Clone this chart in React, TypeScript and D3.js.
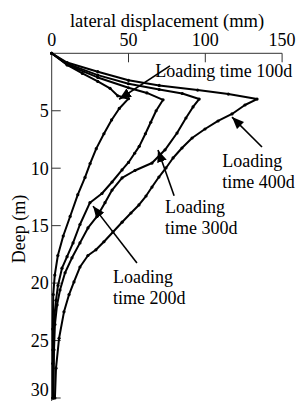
import * as d3 from "d3";

const W = 298;
const H = 401;
const FONT = "'Liberation Serif', 'Times New Roman', serif";

const X_TICKS = [0, 50, 100, 150];
const Y_TICKS = [5, 10, 15, 20, 25, 30];

// [displacement mm, depth m]
const curve100: [number, number][] = [
  [0, 0], [10, 1.0], [20, 1.75], [30, 2.45], [38, 3.05], [43, 3.7], [50, 3.95],
  [44, 4.8], [39, 5.8], [34, 7.0], [29, 8.3], [25, 9.6], [21.7, 10.8], [17, 12.3],
  [12, 14.2], [7.5, 15.9], [4, 17.6], [2, 19.3], [1, 21], [0.7, 24], [0.7, 27], [0.7, 30],
];
const curve200: [number, number][] = [
  [0, 0], [10, 1.0], [30, 2.1], [50, 3.0], [62, 3.45], [72.5, 4.05],
  [68, 5.0], [64.5, 6.0], [61, 7.0], [57, 8.1], [54, 8.7], [50, 9.5], [45.8, 10.15],
  [39.3, 11.2], [32.7, 12.2], [24.9, 13.0], [18.4, 14.9], [13.9, 16.5], [10, 17.7],
  [6.7, 18.7], [4.1, 20.2], [2.8, 21.5], [1.5, 23.2], [0.8, 25.8], [0.8, 30],
];
const curve300: [number, number][] = [
  [0, 0], [10, 0.9], [30, 1.9], [50, 2.65], [70, 3.15], [85, 3.5], [96, 3.98],
  [92, 4.67], [87.4, 5.63], [81.6, 6.94], [73.8, 8.4], [65.3, 9.55], [54.2, 10.2],
  [45.8, 10.85], [39.3, 11.9], [34.7, 13.0], [29.5, 14.2], [23.6, 15.2], [18.4, 16.5],
  [13.2, 17.8], [8.7, 19.1], [5.4, 20.6], [3.5, 21.9], [2.1, 23.6], [1.5, 25.8], [1.2, 30],
];
const curve400: [number, number][] = [
  [0, 0], [10, 0.8], [30, 1.6], [50, 2.35], [70, 2.8], [95, 3.2], [115, 3.55], [133.7, 3.98],
  [125.8, 4.5], [117.4, 5.28], [108.3, 5.89], [99.8, 6.59], [91.4, 7.37], [84.8, 8.24],
  [79, 9.11], [74.4, 9.98], [69.8, 10.77], [65.3, 11.64], [61.4, 12.42], [56.8, 13.2],
  [51.6, 13.9], [45.8, 14.7], [39.9, 15.55], [34, 16.4], [28.8, 17.1], [23.6, 17.6],
  [18.4, 18.6], [14.5, 19.9], [11.3, 21.0], [8, 22.5], [4.8, 24.8], [2.8, 27.4], [2.1, 30],
];
const CURVES = [curve100, curve200, curve300, curve400];

// annotations: arrow tail -> tip, label lines, in data units
const NOTES = [
  { tail: [77, 1.1], tip: [43.9, 4.0], at: [67.4, 2.06], lines: ["Loading time 100d"] },
  { tail: [136.9, 8.15], tip: [117.4, 5.55], at: [111, 9.9], lines: ["Loading", "time 400d"] },
  { tail: [79.7, 12.4], tip: [69.2, 8.42], at: [73.8, 13.9], lines: ["Loading", "time 300d"] },
  { tail: [55.5, 18.25], tip: [26.9, 13.3], at: [39.9, 20.0], lines: ["Loading", "time 200d"] },
];

export default function App() {
  const x = d3.scaleLinear().domain([0, 150]).range([51.7, 282.1]);
  const y = d3.scaleLinear().domain([0, 30]).range([53.3, 398]);
  const line = d3
    .line<[number, number]>()
    .x((p) => x(p[0]))
    .y((p) => y(p[1]));

  return (
    <svg
      width={W}
      height={H}
      style={{ position: "absolute", left: 0, top: 0, background: "#fff" }}
      fontFamily={FONT}
    >
      <defs>
        <marker
          id="head"
          viewBox="0 0 12 10"
          refX="12"
          refY="5"
          markerWidth="12"
          markerHeight="10"
          markerUnits="userSpaceOnUse"
          orient="auto"
        >
          <path d="M0,0 L12,5 L0,10 Z" fill="#000" />
        </marker>
      </defs>

      {/* axes */}
      <line x1={x(0)} x2={x(150)} y1={y(0)} y2={y(0)} stroke="#333" strokeWidth={1} />
      <line x1={x(0)} x2={x(0)} y1={y(0)} y2={H} stroke="#333" strokeWidth={1} />
      {X_TICKS.map((t) => (
        <g key={t}>
          {t > 0 && <line x1={x(t)} x2={x(t)} y1={y(0)} y2={y(0) + 9} stroke="#333" />}
          <text x={x(t)} y={46} fontSize={18} textAnchor="middle">
            {t}
          </text>
        </g>
      ))}
      {Y_TICKS.map((t) => (
        <g key={t}>
          <line x1={x(0)} x2={x(0) + 9} y1={y(t)} y2={y(t)} stroke="#333" />
          <text x={x(0) - 3} y={Math.min(y(t) + 6.3, H - 5)} fontSize={18} textAnchor="end">
            {t}
          </text>
        </g>
      ))}
      <text x={167} y={27} fontSize={18.5} textAnchor="middle">
        lateral displacement (mm)
      </text>
      <text transform="translate(25,229) rotate(-90)" fontSize={18} textAnchor="middle">
        Deep (m)
      </text>

      {/* curves */}
      {CURVES.map((c, i) => (
        <g key={i}>
          <path d={line(c) ?? ""} fill="none" stroke="#000" strokeWidth={2} strokeLinejoin="round" />
          {c.map((p, j) => (
            <circle key={j} cx={x(p[0])} cy={y(p[1])} r={1.6} fill="#000" />
          ))}
        </g>
      ))}

      {/* annotations */}
      {NOTES.map((n, i) => (
        <g key={i}>
          <line
            x1={x(n.tail[0])}
            y1={y(n.tail[1])}
            x2={x(n.tip[0])}
            y2={y(n.tip[1])}
            stroke="#000"
            strokeWidth={1.6}
            markerEnd="url(#head)"
          />
          {n.lines.map((s, k) => (
            <text key={k} x={x(n.at[0])} y={y(n.at[1]) + k * 21} fontSize={18}>
              {s}
            </text>
          ))}
        </g>
      ))}
    </svg>
  );
}
